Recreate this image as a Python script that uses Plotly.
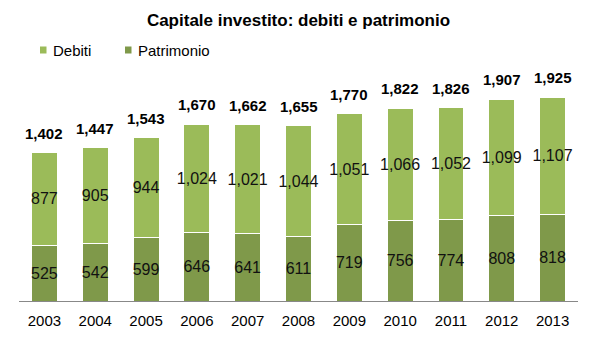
import plotly.graph_objects as go

years = ["2003", "2004", "2005", "2006", "2007", "2008", "2009", "2010", "2011", "2012", "2013"]
patrimonio = [525, 542, 599, 646, 641, 611, 719, 756, 774, 808, 818]
debiti = [877, 905, 944, 1024, 1021, 1044, 1051, 1066, 1052, 1099, 1107]
totals = [1402, 1447, 1543, 1670, 1662, 1655, 1770, 1822, 1826, 1907, 1925]

FONT = "Liberation Sans, Arial, sans-serif"
C_DEB = "#9BBB59"
C_PAT = "#7F994A"

fig = go.Figure()
for name, vals, col in [("Patrimonio", patrimonio, C_PAT), ("Debiti", debiti, C_DEB)]:
    fig.add_trace(go.Bar(
        x=years, y=vals, name=name, showlegend=False,
        marker=dict(color=col, line=dict(color="white", width=1)),
        texttemplate="%{y:,}", textposition="inside", insidetextanchor="middle",
        textangle=0, constraintext="none",
        textfont=dict(size=16, color="#111111", family=FONT),
    ))

for i, t in enumerate(totals):
    fig.add_annotation(x=i, y=t, xref="x", yref="y", text=f"<b>{t:,}</b>", showarrow=False,
                       yanchor="bottom", yshift=9,
                       font=dict(size=15, color="black", family=FONT))

# legend drawn manually
legend_items = [("Debiti", C_DEB, 40), ("Patrimonio", C_PAT, 125)]
for name, col, px in legend_items:
    fig.add_shape(type="rect", xref="paper", yref="paper",
                  x0=(px - 19) / 559, x1=(px + 6.5 - 19) / 559,
                  y0=(301 - 53.5) / 233, y1=(301 - 46.5) / 233,
                  fillcolor=col, line=dict(width=0))
    fig.add_annotation(xref="paper", yref="paper", x=(px + 11 - 19) / 559,
                       y=(301 - 50) / 233, text=name, showarrow=False,
                       xanchor="left", yanchor="middle", xshift=0,
                       font=dict(size=15, family=FONT, color="black"))

fig.update_layout(
    barmode="stack",
    bargap=0.49,
    width=597, height=347,
    margin=dict(l=19, r=19, t=68, b=46),
    paper_bgcolor="white", plot_bgcolor="white",
    font=dict(family=FONT, color="black"),
    title=dict(text="<b>Capitale investito: debiti e patrimonio</b>", x=0.5, xanchor="center",
               y=0.942, yanchor="middle", font=dict(size=17, family=FONT, color="black")),
    xaxis=dict(type="category", showline=True, linecolor="#888888", linewidth=1, ticks="",
               showgrid=False, tickfont=dict(size=15, family=FONT, color="black"),
               range=[-0.5, 10.5], ticklabelstandoff=6),
    yaxis=dict(visible=False, range=[0, 2200]),
    showlegend=False,
)

fig.write_html("out.html")
